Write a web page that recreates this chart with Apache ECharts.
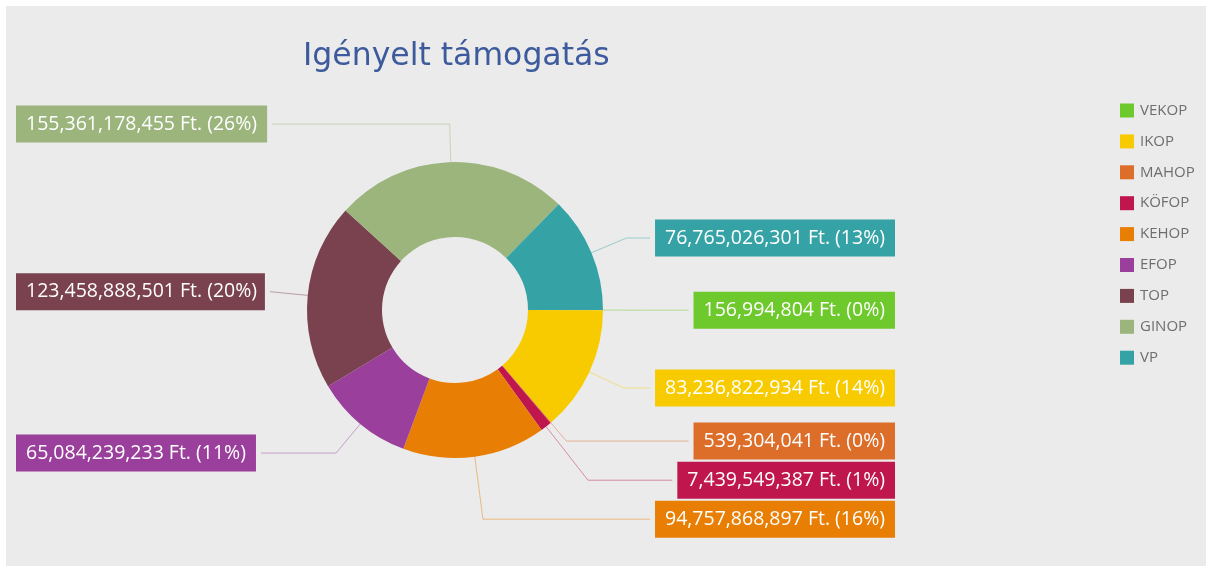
<!DOCTYPE html>
<html>
<head>
<meta charset="utf-8">
<script src="https://cdn.jsdelivr.net/npm/echarts@6/dist/echarts.min.js"></script>
<style>
  html, body { margin: 0; padding: 0; background: #ffffff; }
  #chart { position: absolute; left: 6px; top: 6px; width: 1200px; height: 560px; background: #ebebeb; }
</style>
</head>
<body>
<div id="chart"></div>
<script>
// Requested support per operational programme (Ft.)
const programmes = ['VEKOP', 'IKOP', 'MAHOP', 'KÖFOP', 'KEHOP', 'EFOP', 'TOP', 'GINOP', 'VP'];
const amounts = [156994804, 83236822934, 539304041, 7439549387, 94757868897, 65084239233, 123458888501, 155361178455, 76765026301];
const colors = ['#6ec92c', '#f7cb00', '#dc6e2a', '#bf164e', '#e87e04', '#9a3f9b', '#7a414f', '#9bb57d', '#35a3a6'];

// Leader lines of the small neighbouring slices are stretched so their labels stack cleanly
const leaderLength = { MAHOP: 24, 'KÖFOP': 68, KEHOP: 61 };

const chart = echarts.init(document.getElementById('chart'));

const pieData = programmes.map((name, i) => {
  const line = { lineStyle: { color: colors[i] } };
  if (leaderLength[name] != null) line.length = leaderLength[name];
  return {
    name: name,
    value: amounts[i],
    itemStyle: { color: colors[i] },
    label: { backgroundColor: colors[i] },
    labelLine: line
  };
});

chart.setOption({
  animation: false,
  title: {
    text: 'Igényelt támogatás',
    left: 292,
    top: 30,
    textStyle: {
      fontFamily: 'DejaVu Sans',
      fontWeight: 'normal',
      fontSize: 31.5,
      color: '#3c5a9c'
    }
  },
  legend: {
    orient: 'vertical',
    left: 1109,
    top: 92,
    itemWidth: 14,
    itemHeight: 14,
    itemGap: 15.9,
    icon: 'rect',
    data: programmes,
    textStyle: {
      fontFamily: 'Open Sans',
      fontSize: 15,
      color: '#6e6e6e',
      padding: [0, 0, 0, 1]
    }
  },
  series: [{
    type: 'pie',
    left: 10,
    right: 311,
    top: 0,
    bottom: 0,
    center: [439, 304],
    radius: [73, 148],
    startAngle: 0,
    clockwise: true,
    avoidLabelOverlap: true,
    data: pieData,
    label: {
      show: true,
      position: 'outside',
      alignTo: 'edge',
      edgeDistance: 0,
      overflow: 'none',
      color: '#ffffff',
      fontFamily: 'Open Sans',
      fontSize: 19.5,
      lineHeight: 20,
      padding: [9, 10, 8, 10],
      formatter: function (p) {
        return p.value.toLocaleString('en-US') + ' Ft. (' + Math.round(p.percent) + '%)';
      }
    },
    labelLine: {
      show: true,
      length: 38,
      length2: 0,
      lineStyle: { width: 1, opacity: 0.45 }
    },
    emphasis: { disabled: true }
  }]
});
</script>
</body>
</html>
